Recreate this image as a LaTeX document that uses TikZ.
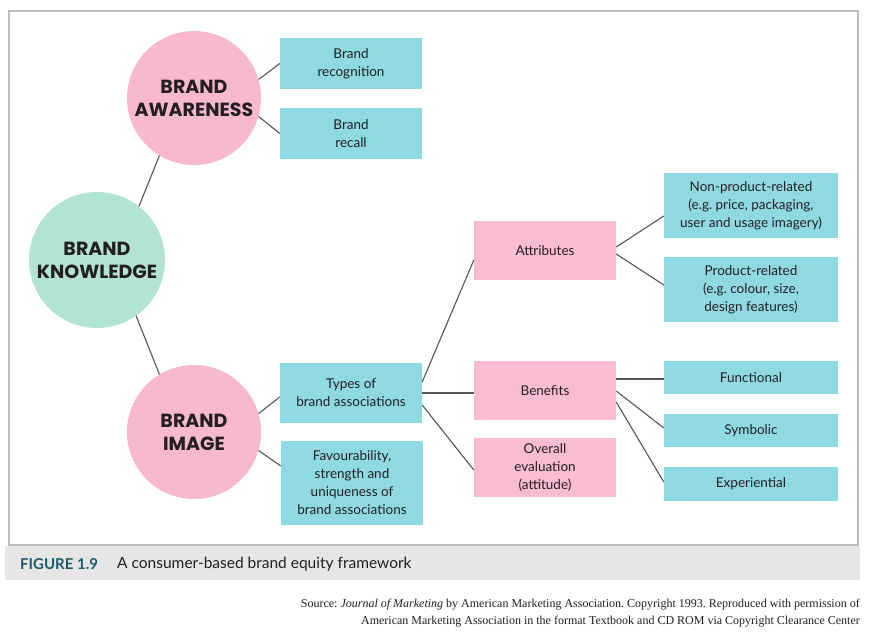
\documentclass[tikz,border=0pt]{standalone}
\usepackage{fontspec}
\setmainfont{Lato}
\newfontfamily\circfont{Poppins}
\newfontfamily\srcfont{Liberation Serif}
\usetikzlibrary{calc}
\frenchspacing
\definecolor{pinkc}{HTML}{F8B9CE}
\definecolor{pinkr}{HTML}{F9BCD0}
\definecolor{bluer}{HTML}{8FD9E3}
\definecolor{tealc}{HTML}{B3E3D5}
\definecolor{framegray}{HTML}{BDBDBD}
\definecolor{capgray}{HTML}{E6E6E6}
\definecolor{figteal}{HTML}{1C5B6E}
\definecolor{linegray}{HTML}{555555}
\definecolor{txt}{HTML}{231F20}
\tikzset{
  circ/.style={circle, inner sep=0pt, minimum size=134pt, align=center, text=txt,
    font=\circfont\bfseries\fontsize{19}{23}\selectfont},
  rbox/.style={rectangle, inner sep=0pt, align=center, text=txt,
    font=\fontsize{13.5}{18}\selectfont},
  bbox/.style={rbox, fill=bluer},
  pbox/.style={rbox, fill=pinkr},
  conn/.style={draw=linegray, line width=1.1pt}
}
\begin{document}
\begin{tikzpicture}[x=1pt,y=-1pt]
\useasboundingbox (0,0) rectangle (869,636);
\fill[white] (0,0) rectangle (869,636);
\fill[capgray] (5,546) rectangle (860,580);
\draw[framegray, line width=1.5pt] (9,11) rectangle (858,545);

% circles
\node[circ, fill=pinkc] (aware) at (194,98) {BRAND\\AWARENESS};
\node[circ, fill=tealc, minimum size=136pt] (know) at (97,260) {BRAND\\KNOWLEDGE};
\node[circ, fill=pinkc] (image) at (194,432) {BRAND\\IMAGE};

% level 2
\node[bbox, minimum width=142pt, minimum height=51pt] (recog) at (351,63.5) {Brand\\recognition};
\node[bbox, minimum width=142pt, minimum height=51pt] (recall) at (351,133.5) {Brand\\recall};
\node[bbox, minimum width=142pt, minimum height=60pt] (types) at (351,393) {Types of\\brand associations};
\node[bbox, minimum width=142pt, minimum height=84pt] (fav) at (352,483) {Favourability,\\strength and\\uniqueness of\\brand associations};

% level 3
\node[pbox, minimum width=142pt, minimum height=59pt] (attr) at (545,250.5) {Attributes};
\node[pbox, minimum width=142pt, minimum height=59pt] (ben) at (545,390.5) {Benefits};
\node[pbox, minimum width=142pt, minimum height=59pt] (overall) at (545,467.5) {Overall\\evaluation\\(attitude)};

% level 4
\node[bbox, minimum width=174pt, minimum height=65pt] (nonprod) at (751,205.5) {Non-product-related\\(e.g. price, packaging,\\user and usage imagery)};
\node[bbox, minimum width=174pt, minimum height=65pt] (prod) at (751,289.5) {Product-related\\(e.g. colour, size,\\design features)};
\node[bbox, minimum width=174pt, minimum height=33pt] (func) at (751,377.5) {Functional};
\node[bbox, minimum width=174pt, minimum height=33pt] (symb) at (751,430.5) {Symbolic};
\node[bbox, minimum width=174pt, minimum height=34pt] (exper) at (751,484) {Experiential};

% connectors
\draw[conn] (aware.16) -- (recog.west);
\draw[conn] (aware.-16) -- (recall.west);
\draw[conn] (know.52) -- (aware.239);
\draw[conn] (know.-55) -- (image.121);
\draw[conn] (image.16) -- ($(types.west)+(0,4)$);
\draw[conn] (image.-16) -- ($(fav.west)+(0,-17)$);
\draw[conn] ($(types.east)+(0,-11)$) -- ($(attr.west)+(0,9.5)$);
\draw[conn] (types.east) -- (types.east -| ben.west);
\draw[conn] ($(types.east)+(0,12)$) -- ($(overall.west)+(0,2.5)$);
\draw[conn] ($(attr.east)+(0,-3.5)$) -- ($(nonprod.west)+(0,10.5)$);
\draw[conn] ($(attr.east)+(0,3.5)$) -- ($(prod.west)+(0,-4.5)$);
\draw[conn] ($(ben.east)+(0,-11.5)$) coordinate (b1) -- (b1 -| func.west);
\draw[conn] ($(ben.east)+(0,0.5)$) -- ($(symb.west)+(0,-2.5)$);
\draw[conn] ($(ben.east)+(0,11.5)$) -- ($(exper.west)+(0,-2)$);

% caption
\node[anchor=west, inner sep=0pt, text=figteal, font=\bfseries\fontsize{15}{18}\selectfont] (fig) at (20,564) {FIGURE 1.9};
\node[anchor=west, inner sep=0pt, text=txt, font=\fontsize{15.5}{18}\selectfont] (captxt) at (117,564) {A consumer-based brand equity framework};

% source
\node[anchor=north east, inner sep=0pt, align=right, text=txt, font=\srcfont\frenchspacing\fontsize{12}{17}\selectfont] (src) at (860,599) {Source: \textit{Journal of Marketing} by American Marketing Association. Copyright 1993. Reproduced with permission of\\American Marketing Association in the format Textbook and CD ROM via Copyright Clearance Center};
\end{tikzpicture}
\end{document}
